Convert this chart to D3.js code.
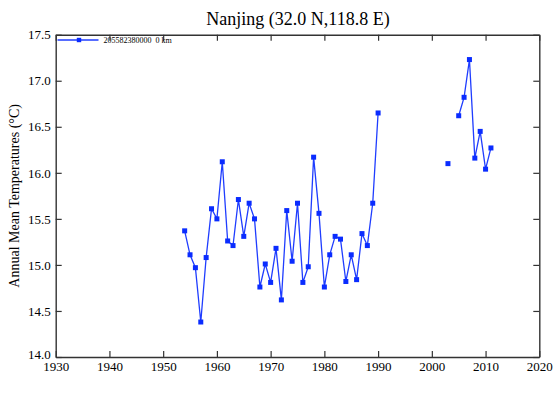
<!DOCTYPE html>
<html>
<head>
<meta charset="utf-8">
<script src="https://cdn.jsdelivr.net/npm/d3@7"></script>
<style>
  html, body { margin: 0; padding: 0; background: #fff; }
  svg { display: block; }
  text { font-family: "Liberation Serif", "Times New Roman", serif; }
</style>
</head>
<body>
<svg id="chart" width="560" height="396"></svg>
<script>
// ---- data ----
const years = [1954,1955,1956,1957,1958,1959,1960,1961,1962,1963,1964,1965,1966,1967,1968,1969,
  1970,1971,1972,1973,1974,1975,1976,1977,1978,1979,1980,1981,1982,1983,1984,1985,1986,1987,1988,1989,1990,
  1991,1992,1993,1994,1995,1996,1997,1998,1999,2000,2001,2002,2003,2004,2005,2006,2007,2008,2009,2010,2011];
const temps = [15.37,15.11,14.97,14.38,15.08,15.61,15.50,16.12,15.26,15.21,15.71,15.31,15.67,15.50,14.76,15.01,
  14.81,15.18,14.62,15.59,15.04,15.67,14.81,14.98,16.17,15.56,14.76,15.11,15.31,15.28,14.82,15.11,14.84,15.34,15.21,15.67,16.65,
  null,null,null,null,null,null,null,null,null,null,null,null,16.10,null,16.62,16.82,17.23,16.16,16.45,16.04,16.27];
const xTicks = [1930,1940,1950,1960,1970,1980,1990,2000,2010,2020];
const yTicks = [14.0,14.5,15.0,15.5,16.0,16.5,17.0,17.5];
const title = "Nanjing (32.0 N,118.8 E)";
const yLabel = "Annual Mean Temperatures (\u00B0C)";
const legendLabel = "205582380000  0 km";

// ---- layout ----
const svg = d3.select("#chart");
const L = 55.7, R = 539.3, T = 34.7, B = 357;
const x = d3.scaleLinear().domain([1930, 2020]).range([L, R]);
const y = d3.scaleLinear().domain([14.0, 17.5]).range([B, T]);
const axisColor = "#333";
const blue = "#1f3dff";
const markBlue = "#0a2cff";

const data = years.map((yr, i) => ({ year: yr, value: temps[i] }));

function styleAxis(g) {
  g.attr("font-family", null).attr("font-size", null);
  g.selectAll(".domain").attr("stroke", axisColor).attr("stroke-width", 1.4);
  g.selectAll(".tick line").attr("stroke", axisColor).attr("stroke-width", 1.2);
  g.selectAll("text").attr("fill", "#000").style("font-family", "'Liberation Serif', serif").style("font-size", "13px");
}
const fmt = d3.format(".1f");

const gx = svg.append("g").attr("transform", `translate(0,${B})`)
  .call(d3.axisBottom(x).tickValues(xTicks).tickFormat(d3.format("d")).tickSizeInner(-6).tickSizeOuter(0).tickPadding(6));
styleAxis(gx);
gx.selectAll("text").attr("dy", "0.71em").attr("y", 5);

const gxt = svg.append("g").attr("transform", `translate(0,${T})`)
  .call(d3.axisTop(x).tickValues(xTicks).tickFormat("").tickSizeInner(-6).tickSizeOuter(0));
styleAxis(gxt);

const gy = svg.append("g").attr("transform", `translate(${L},0)`)
  .call(d3.axisLeft(y).tickValues(yTicks).tickFormat(fmt).tickSizeInner(-6).tickSizeOuter(0).tickPadding(0));
styleAxis(gy);
gy.selectAll("text").attr("x", -5);
gy.selectAll(".tick").filter(d => d === 14.0).select("text").attr("dy", "0.15em");

const gyr = svg.append("g").attr("transform", `translate(${R},0)`)
  .call(d3.axisRight(y).tickValues(yTicks).tickFormat("").tickSizeInner(-6).tickSizeOuter(0));
styleAxis(gyr);

// title
svg.append("text").attr("x", 298).attr("y", 25).attr("text-anchor", "middle")
  .style("font-size", "18px").attr("fill", "#000").text(title);

// y label
svg.append("text").attr("transform", `translate(18.5,${(T + B) / 2}) rotate(-90)`)
  .attr("text-anchor", "middle").style("font-size", "14px").attr("fill", "#000").text(yLabel);

// line
const line = d3.line().defined(d => d.value !== null).x(d => x(d.year)).y(d => y(d.value));
svg.append("path").datum(data).attr("d", line)
  .attr("fill", "none").attr("stroke", blue).attr("stroke-width", 1.3);

// markers
const ms = 5;
svg.append("g").selectAll("rect").data(data.filter(d => d.value !== null)).join("rect")
  .attr("x", d => x(d.year) - ms / 2).attr("y", d => y(d.value) - ms / 2)
  .attr("width", ms).attr("height", ms).attr("fill", markBlue);

// legend
const lg = svg.append("g");
lg.append("line").attr("x1", 57.5).attr("x2", 98.5).attr("y1", 40).attr("y2", 40)
  .attr("stroke", blue).attr("stroke-width", 1.3);
lg.append("rect").attr("x", 79 - 2.2).attr("y", 40 - 2.2).attr("width", 4.4).attr("height", 4.4).attr("fill", markBlue);
lg.append("text").attr("x", 103.5).attr("y", 42.5).style("font-size", "8px").attr("fill", "#000")
  .attr("xml:space", "preserve").style("white-space", "pre").text(legendLabel);
</script>
</body>
</html>
